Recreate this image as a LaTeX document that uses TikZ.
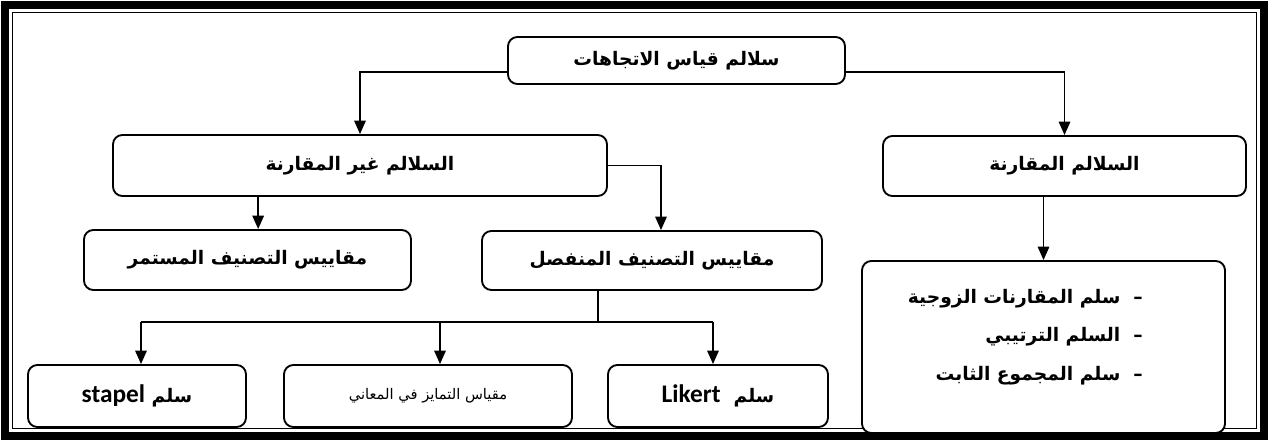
\documentclass[tikz,border=0pt]{standalone}
\usepackage{fontspec}
\newfontfamily\arabicfont[Script=Arabic]{DejaVu Sans}
\newfontfamily\latinfont{Carlito}
\TeXXeTstate=1
\usetikzlibrary{arrows.meta,positioning}
\newcommand{\artxt}[1]{\arabicfont\bfseries\beginR #1\endR}
\newcommand{\lattxt}[1]{\beginL{\latinfont\bfseries\fontsize{19}{22}\selectfont #1}\endL}

\begin{document}
\begin{tikzpicture}[x=0.75pt,y=-0.75pt,font={\fontsize{14}{17}\selectfont},
  box/.style={draw,line width=1.4pt,rounded corners=7pt,fill=white,inner sep=2pt},
  arr/.style={line width=1.4pt,-{Triangle[length=10pt,width=8.5pt]}}]
\useasboundingbox (0,0) rectangle (1269,441);
% double frame
\draw[line width=5.5pt] (5,5) rectangle (1264,436);
\draw[line width=0.9pt] (12.5,12.5) rectangle (1256.5,428.5);

% boxes
\node[box,minimum width=252.75pt,minimum height=35.25pt] (top) at (676.5,60.5) {\artxt{سلالم قياس الاتجاهات}};
\node[box,minimum width=370.5pt,minimum height=45.75pt] (noncomp) at (360,165.5) {\artxt{السلالم غير المقارنة}};
\node[box,minimum width=272.25pt,minimum height=45pt] (comp) at (1064.5,166) {\artxt{السلالم المقارنة}};
\node[box,minimum width=245.25pt,minimum height=45pt] (cont) at (247.5,260) {\artxt{مقاييس التصنيف المستمر}};
\node[box,minimum width=255pt,minimum height=44.25pt] (disc) at (652,260.5) {\artxt{مقاييس التصنيف المنفصل}};
\node[box,minimum width=163.5pt,minimum height=46.5pt] (stapel) at (137,396) {\artxt{سلم \lattxt{stapel}}};
\node[box,minimum width=216pt,minimum height=46.5pt] (sem) at (428,396) {{\arabicfont\fontsize{11}{14}\selectfont\beginR مقياس التمايز في المعاني\endR}};
\node[box,minimum width=165pt,minimum height=46.5pt] (likert) at (718,396) {\artxt{سلم\ \ \lattxt{Likert}}};
\node[box,minimum width=272.25pt,minimum height=129pt] (list) at (1043.5,347) {};
\node[align=right,anchor=east,inner sep=0pt,font={\fontsize{14}{29}\selectfont}] (listtxt) at (1143,337)
  {\artxt{–\ \ سلم المقارنات الزوجية}\\\artxt{–\ \ السلم الترتيبي}\\\artxt{–\ \ سلم المجموع الثابت}};

% connectors
\draw[arr] ([yshift=-8.6pt]top.west) -| (noncomp.north);
\draw[arr] ([yshift=-8.6pt]top.east) -| (comp.north);
\draw[arr] (noncomp.east) -| ([xshift=6.75pt]disc.north);
\draw[arr] ([xshift=8pt]cont.north |- noncomp.south) -- ([xshift=8pt]cont.north);
\draw[arr] (list.north |- comp.south) -- (list.north);

% split under the discrete scales
\coordinate (split) at (598,322);
\draw[line width=0.8pt] (split |- disc.south) -- (split);
\draw[line width=1.4pt] ([xshift=3pt]stapel.north |- split) -- ([xshift=-3.75pt]likert.north |- split);
\foreach \n/\s in {stapel/3pt,sem/9pt,likert/-3.75pt}
  \draw[arr] ([xshift=\s]\n.north |- split) -- ([xshift=\s]\n.north);
\end{tikzpicture}
\end{document}
